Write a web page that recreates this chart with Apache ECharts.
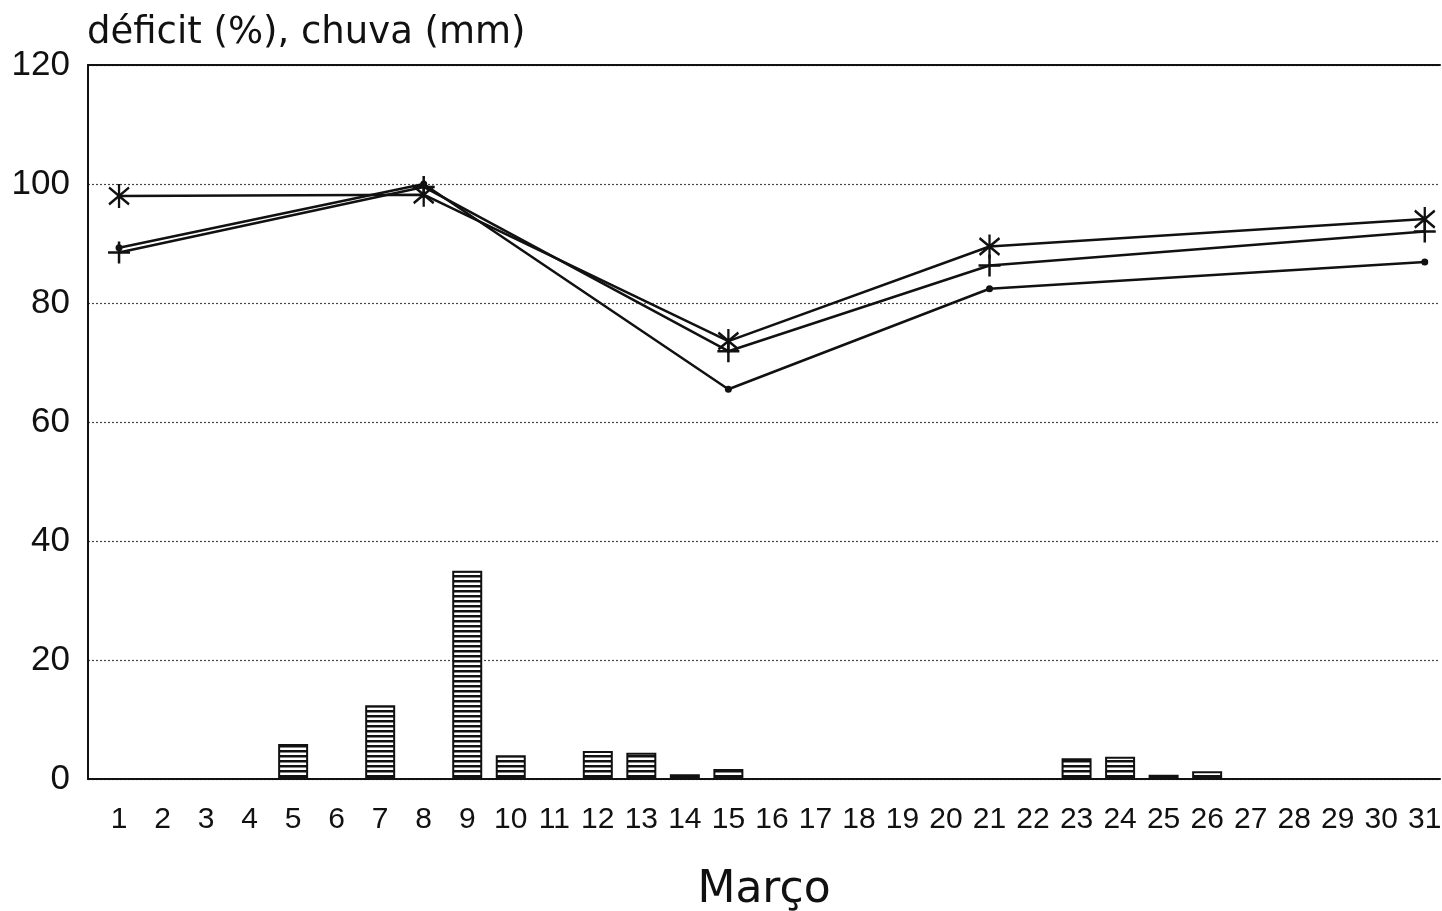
<!DOCTYPE html>
<html>
<head>
<meta charset="utf-8">
<script src="https://cdn.jsdelivr.net/npm/echarts@6/dist/echarts.min.js"></script>
<style>
html,body{margin:0;padding:0;background:#fff;}
#chart{width:1442px;height:911px;}
</style>
</head>
<body>
<div id="chart"></div>
<script>
// ---- data ----
var days = [];
for (var i = 1; i <= 31; i++) days.push(i);
var lineDays = [1, 8, 15, 21, 31];
var deficitStar = [98, 98.2, 73.6, 89.5, 94.1];
var deficitPlus = [88.5, 99.5, 71.9, 86.3, 92];
var deficitDot = [89.3, 100, 65.5, 82.4, 86.9];
var rainDays = [5, 7, 9, 10, 12, 13, 14, 15, 23, 24, 25, 26];
var rainValues = [5.9, 12.4, 35, 4.0, 4.7, 4.4, 0.8, 1.7, 3.5, 3.75, 0.7, 1.3];
var yTicks = [0, 20, 40, 60, 80, 100, 120];

function pairs(xs, ys) { return xs.map(function (x, i) { return [x, ys[i]]; }); }

// stripe pattern for rain bars
var pc = document.createElement('canvas');
pc.width = 8; pc.height = 5;
var g = pc.getContext('2d');
g.fillStyle = '#fff'; g.fillRect(0, 0, 8, 5);
g.fillStyle = '#111'; g.fillRect(0, 0, 8, 2.5);

var NUMFONT = 'Liberation Sans';
var TXTFONT = 'DejaVu Sans';
var chart = echarts.init(document.getElementById('chart'));
var star = 'path://M0 -10 L0 10 M-8 -7 L8 7 M-8 7 L8 -7';
var plus = 'path://M0 -10 L0 10 M-10 0 L10 0';

chart.setOption({
  animation: false,
  backgroundColor: '#fff',
  title: {
    text: 'déficit (%), chuva (mm)',
    left: 82, top: 10,
    textStyle: { fontFamily: TXTFONT, fontWeight: 'normal', fontSize: 37, color: '#111' }
  },
  grid: { left: 88, right: 2, top: 65, bottom: 132, outerBoundsMode: 'none', containLabel: false },
  xAxis: [{
    type: 'value', min: 0.287, max: 31.35,
    name: 'Março', nameLocation: 'middle', nameGap: 90,
    nameTextStyle: { fontFamily: TXTFONT, fontSize: 44, color: '#111' },
    axisLine: { show: true, onZero: false, lineStyle: { color: '#111', width: 2 } },
    axisTick: { show: false },
    splitLine: { show: false },
    axisLabel: {
      customValues: days, margin: 26,
      fontFamily: NUMFONT, fontSize: 30, color: '#111',
      formatter: function (v) { return String(Math.round(v)); }
    }
  }, {
    type: 'value', position: 'top', min: 0.287, max: 31.35,
    axisLine: { show: true, onZero: false, lineStyle: { color: '#111', width: 2 } },
    axisTick: { show: false }, axisLabel: { show: false }, splitLine: { show: false }
  }],
  yAxis: {
    type: 'value', min: 0, max: 120, interval: 20,
    axisLine: { show: true, lineStyle: { color: '#111', width: 2 } },
    axisTick: { show: false },
    axisLabel: { margin: 18, fontFamily: NUMFONT, fontSize: 35, color: '#111',
      customValues: yTicks, padding: [16, 0, 0, 0] },
    splitLine: { show: true, lineStyle: { color: '#444', width: 1.2, type: [2, 2] } }
  },
  series: [{
    type: 'bar', data: pairs(rainDays, rainValues), barWidth: 30,
    itemStyle: { color: { image: pc, repeat: 'repeat' }, borderColor: '#111', borderWidth: 2 },
    z: 2
  }, {
    type: 'line', data: pairs(lineDays, deficitStar),
    symbol: star, symbolSize: [20, 24],
    lineStyle: { color: '#111', width: 2.5 },
    itemStyle: { color: '#111', borderColor: '#111', borderWidth: 2.5 },
    z: 3
  }, {
    type: 'line', data: pairs(lineDays, deficitPlus),
    symbol: plus, symbolSize: 22,
    lineStyle: { color: '#111', width: 2.5 },
    itemStyle: { color: '#111', borderColor: '#111', borderWidth: 2.5 },
    z: 3
  }, {
    type: 'line', data: pairs(lineDays, deficitDot),
    symbol: 'circle', symbolSize: 7,
    lineStyle: { color: '#111', width: 2.5 },
    itemStyle: { color: '#111' },
    z: 3
  }]
});
</script>
</body>
</html>
